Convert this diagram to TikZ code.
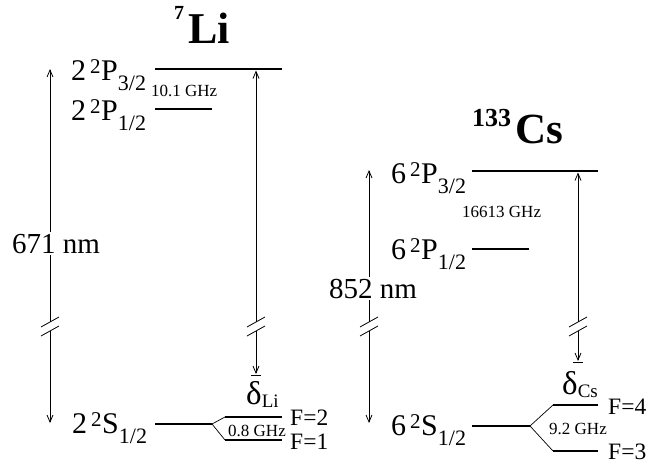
\documentclass[tikz,border=0pt]{standalone}
\usepackage{fontspec}
\setmainfont{Liberation Serif}
\usetikzlibrary{arrows.meta}
\newcommand\fs[1]{\fontsize{#1}{#1}\selectfont}
\newcommand\term[4]{{\fs{30}#1\kern4pt\raisebox{7pt}{\fs{21}#2}\kern0.5pt#3\raisebox{-10pt}{\fs{22}#4}}}
\newcommand\brkmark[1]{\draw[arr] ([shift={(-9,5)}]#1) -- ([shift={(9,-5)}]#1);}
\begin{document}
\begin{tikzpicture}[x=1pt,y=-1pt,
  lvl/.style={line width=2.8pt},
  conn/.style={line width=0.7pt},
  arr/.style={line width=0.8pt},
  tip/.style={-{Straight Barb[length=7pt,width=6pt]}},
  lab/.style={inner sep=0pt,anchor=base west},
  ghz/.style={lab,font=\fs{17}},
  flab/.style={lab,font=\fs{23.5}},
  wl/.style={fill=white,inner sep=2pt,anchor=base west,font=\fs{29}}]
\useasboundingbox (0,0) rectangle (656,464);

% ---------- Li levels
\coordinate (liP3a) at (155,69);  \coordinate (liP3b) at (282,69);
\coordinate (liP1a) at (155,109); \coordinate (liP1b) at (212,109);
\coordinate (liSa) at (155,424);  \coordinate (liSb) at (212,424);
\coordinate (liF2a) at (225,417); \coordinate (liF2b) at (282,417);
\coordinate (liF1a) at (225,440); \coordinate (liF1b) at (282,440);
\draw[lvl] (liP3a) -- (liP3b);
\draw[lvl] (liP1a) -- (liP1b);
\draw[lvl] (liSa) -- (liSb);
\draw[conn] (liSb) -- (liF2a);
\draw[conn] (liSb) -- (liF1a);
\draw[lvl] (liF2a) -- (liF2b);
\draw[lvl] (liF1a) -- (liF1b);

% ---------- Cs levels
\coordinate (csP3a) at (472,171); \coordinate (csP3b) at (598,171);
\coordinate (csP1a) at (472,249); \coordinate (csP1b) at (529,249);
\coordinate (csSa) at (472,426);  \coordinate (csSb) at (530,426);
\coordinate (csF4a) at (553,405); \coordinate (csF4b) at (598,405);
\coordinate (csF3a) at (553,451); \coordinate (csF3b) at (598,451);
\draw[lvl] (csP3a) -- (csP3b);
\draw[lvl] (csP1a) -- (csP1b);
\draw[lvl] (csSa) -- (csSb);
\draw[conn] (csSb) -- (csF4a);
\draw[conn] (csSb) -- (csF3a);
\draw[lvl] (csF4a) -- (csF4b);
\draw[lvl] (csF3a) -- (csF3b);

% ---------- Li arrows
\coordinate (liLtop) at (50,69);  \coordinate (liLb1) at (50,322);
\coordinate (liLb2) at (50,331);  \coordinate (liLbot) at (50,423);
\draw[arr,tip] (liLb1) -- (liLtop);
\draw[arr,tip] (liLb2) -- (liLbot);
\brkmark{liLb1} \brkmark{liLb2}
\node[wl] (li671) at (10,253) {671 nm};

\coordinate (liRtop) at (256,70.5); \coordinate (liRb1) at (256,322);
\coordinate (liRb2) at (256,331);   \coordinate (liRbot) at (256,374);
\coordinate (liBarL) at (251,375.5); \coordinate (liBarR) at (261,375.5);
\draw[arr,tip] (liRb1) -- (liRtop);
\draw[arr,tip] (liRb2) -- (liRbot);
\draw[arr] (liBarL) -- (liBarR);
\brkmark{liRb1} \brkmark{liRb2}

% ---------- Cs arrows
\coordinate (csLtop) at (369,170); \coordinate (csLb1) at (369,322);
\coordinate (csLb2) at (369,331);  \coordinate (csLbot) at (369,423);
\draw[arr,tip] (csLb1) -- (csLtop);
\draw[arr,tip] (csLb2) -- (csLbot);
\brkmark{csLb1} \brkmark{csLb2}
\node[wl] (cs852) at (327,298) {852 nm};

\coordinate (csRtop) at (578,172.5); \coordinate (csRb1) at (578,322);
\coordinate (csRb2) at (578,331);    \coordinate (csRbot) at (578,361);
\coordinate (csBarL) at (573,362.5); \coordinate (csBarR) at (583,362.5);
\draw[arr,tip] (csRb1) -- (csRtop);
\draw[arr,tip] (csRb2) -- (csRbot);
\draw[arr] (csBarL) -- (csBarR);
\brkmark{csRb1} \brkmark{csRb2}

% ---------- titles
\node[lab] (liT) at (174,43) {\bfseries{\fs{20}\raisebox{24pt}{7}}\kern4pt{\fs{44}Li}};
\node[lab] (csT) at (472,143) {\bfseries{\fs{26}\raisebox{17pt}{133}}\kern4pt{\fs{43}Cs}};

% ---------- term labels
\node[lab] (liP3) at (71,80)  {\term{2}{2}{P}{3/2}};
\node[lab] (liP1) at (71,120) {\term{2}{2}{P}{1/2}};
\node[lab] (liS)  at (72,433) {\term{2}{2}{S}{1/2}};
\node[lab] (csP3) at (391,183) {\term{6}{2}{P}{3/2}};
\node[lab] (csP1) at (391,259) {\term{6}{2}{P}{1/2}};
\node[lab] (csS)  at (391,435) {\term{6}{2}{S}{1/2}};

% ---------- detunings
\node[lab] (liD) at (246,404) {\fs{33}δ\raisebox{-3pt}{\fs{19}Li}};
\node[lab] (csD) at (562,394) {\fs{33}δ\raisebox{-3pt}{\fs{19}Cs}};

% ---------- splittings
\node[ghz] (liG1) at (151,96)  {10.1 GHz};
\node[ghz] (csG1) at (462,217) {16613 GHz};
\node[ghz] (liG2) at (228,436) {0.8 GHz};
\node[ghz] (csG2) at (549,434) {9.2 GHz};

% ---------- F labels
\node[flab] (liFa) at (290,425) {F=2};
\node[flab] (liFb) at (290,449) {F=1};
\node[flab] (csFa) at (608,414) {F=4};
\node[flab] (csFb) at (608,459) {F=3};
\end{tikzpicture}
\end{document}
